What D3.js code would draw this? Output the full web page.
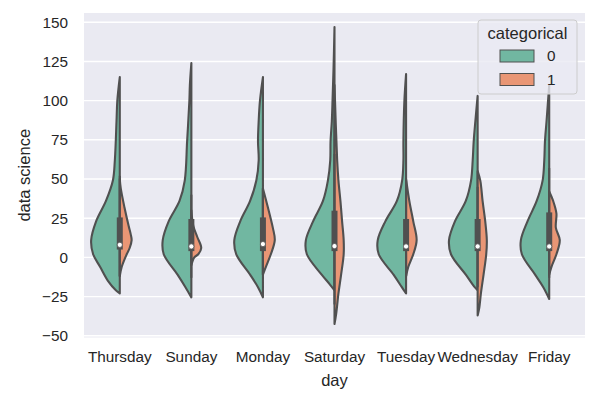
<!DOCTYPE html>
<html><head><meta charset="utf-8">
<script src="https://cdn.jsdelivr.net/npm/d3@7"></script>
<style>body{margin:0;background:#fff;} text{font-family:"Liberation Sans",Arial,sans-serif;fill:#262626;}</style>
</head><body>
<svg id="chart" width="615" height="397"></svg>
<script>
// ---- data ----
const days = ["Thursday","Sunday","Monday","Saturday","Tuesday","Wednesday","Friday"];
const hues = ["0","1"];
const yTicks = [-50,-25,0,25,50,75,100,125,150];
// density profiles: [value, density] pairs for hue "0" and hue "1"
const densityHue0 = [
  [[115,0],[100,2.5],[87,3.3],[62,5],[49,7],[36,14],[23,24],[11,29],[2,27],[-6,20],[-15,12],[-21,4],[-23,0]],
  [[124,0],[110,1.5],[100,2],[74,4.3],[49,6.7],[36,12],[23,23],[11,29],[2,28],[-11,14],[-19,6],[-25.5,0]],
  [[115,0],[100,3],[87,4.3],[74,5],[62,4.3],[49,6.7],[36,13],[23,23],[11,29],[2,27],[-11,13],[-19,5],[-25.5,0]],
  [[147,0],[120,1],[100,2],[87,2.7],[74,4],[62,4.3],[49,6.7],[36,11.7],[23,21.7],[11,29],[2,28],[-11,13],[-17,5],[-21,0]],
  [[117,0],[100,1.7],[74,2.7],[62,2.7],[49,4],[36,9.3],[23,21],[11,28.7],[2,27.7],[-11,12.7],[-19,4.3],[-23,0]],
  [[103,0],[87,2.3],[74,4],[62,5],[49,6.7],[36,12],[23,23],[11,29],[2,27],[-11,12],[-19,3],[-21,0]],
  [[110,0],[87,2.7],[74,4.3],[62,5],[49,6.7],[36,12.7],[23,22],[11,28.7],[2,27.7],[-11,14.3],[-19,6],[-26.5,0]]
];
const densityHue1 = [
  [[50,0],[44,1],[32,4.7],[20,9],[15,11],[11,12],[6,10],[2,7],[-6,2],[-12,0]],
  [[30,0],[20,2],[13,6],[6,10],[2,7],[0,3],[-5,0]],
  [[44,0],[32,5],[19,10],[11,12],[2,8],[-6,3],[-11,0]],
  [[110,0],[62,2.7],[49,4],[36,6],[23,7.7],[11,9.3],[2,9.3],[-11,6.7],[-23,4],[-36,1.7],[-42.5,0]],
  [[50,0],[36,3.3],[23,7.3],[11,10.7],[2,7.3],[-6,2.3],[-12,0]],
  [[55,0],[49,2.7],[36,5],[23,7.7],[11,9.3],[2,8.7],[-11,6],[-23,3.3],[-32,1.7],[-37,0]],
  [[42,0],[36,4],[28,7.3],[19,6.7],[11,10.7],[2,7.3],[-6,2.3],[-11,0]]
];
// inner box: [whisker low, q1, median, q3, whisker high]
const boxStats = [
  [-12,5,8,25.5,52],
  [-13,4,7,24.5,40],
  [-11,4,8.5,25.5,44],
  [-30,4,7.2,29.8,66],
  [-12,4,7,24.5,49],
  [-19,4,7,24.5,45],
  [-13,4,7,28.7,57]
];
const hueColors = ["#71b7a1","#e99675"];
const lineGray = "#505050";

// ---- layout ----
const svg = d3.select("#chart");
const L=84, R=585, T=13, B=337.5;
const x = d3.scaleBand().domain(days).range([L,R]).padding(0);
const y = d3.scaleLinear().domain([-51.1,155.9]).range([B,T]);
const w = d3.scaleLinear().domain([0,29]).range([0,x.bandwidth()*0.4]).clamp(true);

svg.append("rect").attr("x",L).attr("y",T).attr("width",R-L).attr("height",B-T).attr("fill","#eaeaf2");
svg.append("g").selectAll("line").data(yTicks).join("line")
  .attr("x1",L).attr("x2",R).attr("y1",d=>y(d)).attr("y2",d=>y(d))
  .attr("stroke","#fff").attr("stroke-width",1.4);

// axes
const yAxis = svg.append("g").attr("transform",`translate(${L},0)`)
  .call(d3.axisLeft(y).tickValues(yTicks).tickSize(0).tickPadding(16).tickFormat(d=>d<0?"\u2212"+Math.abs(d):d));
yAxis.select(".domain").remove();
yAxis.selectAll("text").attr("font-size",15.3).style("font-family","'Liberation Sans',Arial,sans-serif").attr("fill","#262626");
const xAxis = svg.append("g").attr("transform",`translate(0,${B})`)
  .call(d3.axisBottom(x).tickSize(0).tickPadding(14));
xAxis.select(".domain").remove();
xAxis.selectAll("text").attr("font-size",15.3).style("font-family","'Liberation Sans',Arial,sans-serif").attr("fill","#262626");

svg.append("text").attr("x",(L+R)/2).attr("y",386).attr("text-anchor","middle").attr("font-size",16.5).text("day");
svg.append("text").attr("transform",`translate(30,${(T+B)/2}) rotate(-90)`).attr("text-anchor","middle").attr("font-size",16.5).text("data science");

// violins
const g = svg.append("g");
days.forEach((day,i)=>{
  const cx = x(day)+x.bandwidth()/2;
  [densityHue0[i],densityHue1[i]].forEach((prof,h)=>{
    const sign = h===0?-1:1;
    const area = d3.area().curve(d3.curveCatmullRom.alpha(0.5))
      .y(d=>y(d[0])).x0(d=>cx+sign*w(d[1])).x1(cx);
    g.append("path").attr("d",area(prof)+"Z")
      .attr("fill",hueColors[h]).attr("stroke",lineGray).attr("stroke-width",2.1).attr("stroke-linejoin","round");
  });
  const b = boxStats[i];
  g.append("line").attr("x1",cx).attr("x2",cx).attr("y1",y(b[0])).attr("y2",y(b[4]))
    .attr("stroke",lineGray).attr("stroke-width",2.1);
  g.append("line").attr("x1",cx).attr("x2",cx).attr("y1",y(b[1])).attr("y2",y(b[3]))
    .attr("stroke",lineGray).attr("stroke-width",6);
  g.append("circle").attr("cx",cx).attr("cy",y(b[2])).attr("r",2.6)
    .attr("fill","#fff").attr("stroke",lineGray).attr("stroke-width",0.8);
});

// legend
const lg = svg.append("g");
lg.append("rect").attr("x",478).attr("y",20).attr("width",99).attr("height",74).attr("rx",3)
  .attr("fill","#eaeaf2").attr("fill-opacity",0.8).attr("stroke","#cccccc").attr("stroke-width",1);
lg.append("text").attr("x",527.5).attr("y",39).attr("text-anchor","middle").attr("font-size",16.5).text("categorical");
hues.forEach((hname,h)=>{
  const yy = 50 + h*23.5;
  lg.append("rect").attr("x",500).attr("y",yy).attr("width",34).attr("height",12)
    .attr("fill",hueColors[h]).attr("stroke",lineGray).attr("stroke-width",1);
  lg.append("text").attr("x",547).attr("y",yy+11).attr("font-size",15.3).text(hname);
});
</script>
</body></html>
